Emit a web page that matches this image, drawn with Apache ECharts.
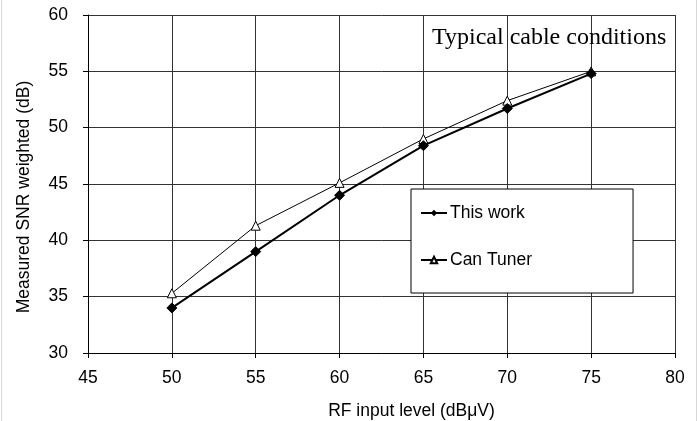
<!DOCTYPE html>
<html>
<head>
<meta charset="utf-8">
<script src="https://cdn.jsdelivr.net/npm/echarts@6/dist/echarts.min.js"></script>
<style>
  html, body { margin: 0; padding: 0; background: #fff; }
  #main { width: 698px; height: 421px; }
</style>
</head>
<body>
<div id="main"></div>
<script>
var rfLevels = [50, 55, 60, 65, 70, 75];
var thisWork = [34.0, 39.0, 44.0, 48.4, 51.7, 54.8];
var canTuner = [35.3, 41.3, 45.1, 49.0, 52.4, 55.0];
var seriesNames = ['This work', 'Can Tuner'];

function pairs(xs, ys) {
    return xs.map(function (x, i) { return [x, ys[i]]; });
}

var dom = document.getElementById('main');
var myChart = echarts.init(dom, null, { renderer: 'canvas' });

var font = 'Liberation Sans, Arial, sans-serif';
var fs = 17.5;

var option = {
    animation: false,
    title: {
        text: 'Typical cable conditions',
        left: 432,
        top: 26,
        padding: 0,
        textStyle: {
            fontFamily: 'Liberation Serif, Times New Roman, serif',
            fontSize: 24,
            fontWeight: 'normal',
            color: '#000'
        }
    },
    grid: {
        left: 88,
        right: 23,
        top: 15,
        bottom: 68,
        outerBoundsMode: 'none'
    },
    legend: {
        orient: 'vertical',
        left: 411,
        top: 189,
        padding: [15, 101, 24, 9],
        itemGap: 29,
        itemWidth: 26,
        itemHeight: 8,
        backgroundColor: '#fff',
        borderColor: '#000',
        borderWidth: 1,
        borderRadius: 0,
        textStyle: { fontFamily: font, fontSize: fs, lineHeight: 18, color: '#000', padding: [0, 0, 0, -2] },
        data: seriesNames
    },
    xAxis: {
        type: 'value',
        min: 45,
        max: 80,
        interval: 5,
        name: 'RF input level (dBμV)',
        nameLocation: 'middle',
        nameGap: 49,
        nameTextStyle: { fontFamily: font, fontSize: fs, color: '#000', padding: [0, 0, 0, 60] },
        axisLine: { show: true, onZero: false, lineStyle: { color: '#000', width: 1 } },
        axisTick: { show: true, length: 5, inside: false, lineStyle: { color: '#000' } },
        axisLabel: { margin: 16, fontFamily: font, fontSize: fs, color: '#000' },
        splitLine: { show: true, lineStyle: { color: '#333', width: 1 } }
    },
    yAxis: {
        type: 'value',
        min: 30,
        max: 60,
        interval: 5,
        name: 'Measured SNR weighted (dB)',
        nameLocation: 'middle',
        nameGap: 55,
        nameTextStyle: { fontFamily: font, fontSize: fs, color: '#000', padding: [0, 26, 0, 0] },
        axisLine: { show: true, lineStyle: { color: '#000', width: 1 } },
        axisTick: { show: true, length: 5, inside: false, lineStyle: { color: '#000' } },
        axisLabel: { margin: 20, fontFamily: font, fontSize: fs, color: '#000' },
        splitLine: { show: true, lineStyle: { color: '#333', width: 1 } }
    },
    series: [
        {
            name: seriesNames[0],
            type: 'line',
            data: pairs(rfLevels, thisWork),
            symbol: 'diamond',
            symbolSize: 10,
            z: 3,
            lineStyle: { color: '#000', width: 2 },
            itemStyle: { color: '#000', borderColor: '#000' }
        },
        {
            name: seriesNames[1],
            type: 'line',
            data: pairs(rfLevels, canTuner),
            symbol: 'triangle',
            symbolSize: 9,
            z: 2,
            lineStyle: { color: '#000', width: 1 },
            itemStyle: { color: '#fff', borderColor: '#000', borderWidth: 1 }
        }
    ],
    graphic: [
        { type: 'line', shape: { x1: 1.5, y1: 0, x2: 1.5, y2: 421 }, style: { stroke: '#d8d8d8', lineWidth: 1 } },
        { type: 'line', shape: { x1: 696.5, y1: 0, x2: 696.5, y2: 421 }, style: { stroke: '#d8d8d8', lineWidth: 1 } }
    ]
};

myChart.setOption(option);
window.addEventListener('resize', myChart.resize);
</script>
</body>
</html>
